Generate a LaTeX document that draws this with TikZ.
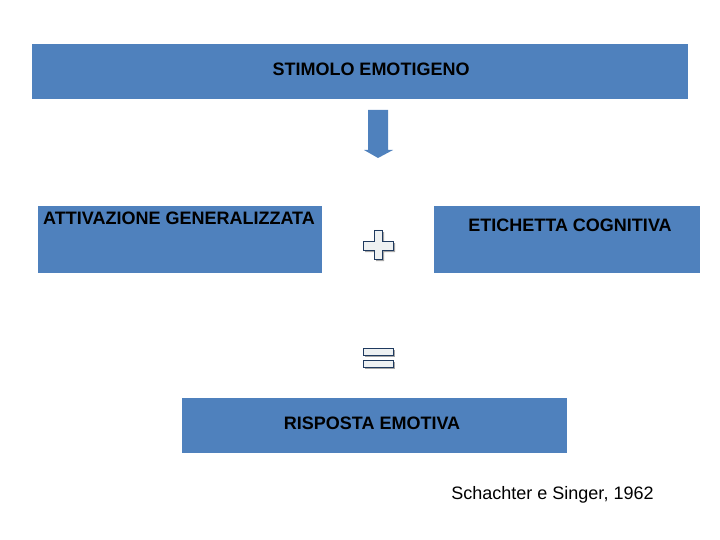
\documentclass[tikz,border=0pt]{standalone}
\usepackage{fontspec}
\setmainfont{Liberation Sans}
\usepackage{tikz}
\usetikzlibrary{positioning,calc}
\definecolor{boxblue}{HTML}{4F81BD}
\definecolor{signline}{HTML}{1F3A5F}
\definecolor{signfill}{HTML}{EEF1F2}
\definecolor{signshadow}{HTML}{A6A6A6}

\begin{document}
\begin{tikzpicture}[x=1pt, y=-1pt,
  box/.style={rectangle, fill=boxblue, draw=none, inner sep=0pt},
  txt/.style={font=\fontsize{18}{21}\selectfont\bfseries, text=black, inner sep=0pt},
  sign/.style={fill=signfill, draw=signline, line width=0.9pt},
  shade/.style={fill=signshadow, draw=none}]
  \useasboundingbox (0,0) rectangle (720,540);

  \node (stimolo) [box, minimum width=656pt, minimum height=55pt] at (360,71.5) {};
  \node (attiv) [box, minimum width=284pt, minimum height=67pt] at (180,239.5) {};
  \node (etich) [box, minimum width=266pt, minimum height=67pt] at (567,239.5) {};
  \node (risp) [box, minimum width=385pt, minimum height=55pt] at (374.5,425.5) {};

  \node (stimolo text) [txt] at (371,69.5) {STIMOLO EMOTIGENO};
  \node (attiv text) [txt, anchor=west] at (43,218.5) {ATTIVAZIONE GENERALIZZATA};
  \node (etich text) [txt] at (570,225.5) {ETICHETTA COGNITIVA};
  \node (risp text) [txt] at (372,423) {RISPOSTA EMOTIVA};

  \node (fonte) [font=\fontsize{18}{21}\selectfont, inner sep=0pt] at (552.5,495) {Schachter e Singer, 1962};

  % block arrow
  \fill[boxblue] (368,110) -- (388,110) -- (388,150) -- (393,150) -- (378,158)
    -- (364,150) -- (368,150) -- cycle;

  % plus sign
  \foreach \dx/\st in {2/shade, 0/sign}
    \draw[\st, shift={(\dx,\dx)}] (374,230) -- (382,230) -- (382,241) -- (393,241)
      -- (393,250) -- (382,250) -- (382,259) -- (374,259) -- (374,250) -- (363,250)
      -- (363,241) -- (374,241) -- cycle;

  % equals sign
  \foreach \dx/\st in {2/shade, 0/sign} {
    \draw[\st, shift={(\dx,\dx)}] (363,348) rectangle (393,355);
    \draw[\st, shift={(\dx,\dx)}] (363,360) rectangle (393,367);
  }
\end{tikzpicture}
\end{document}
